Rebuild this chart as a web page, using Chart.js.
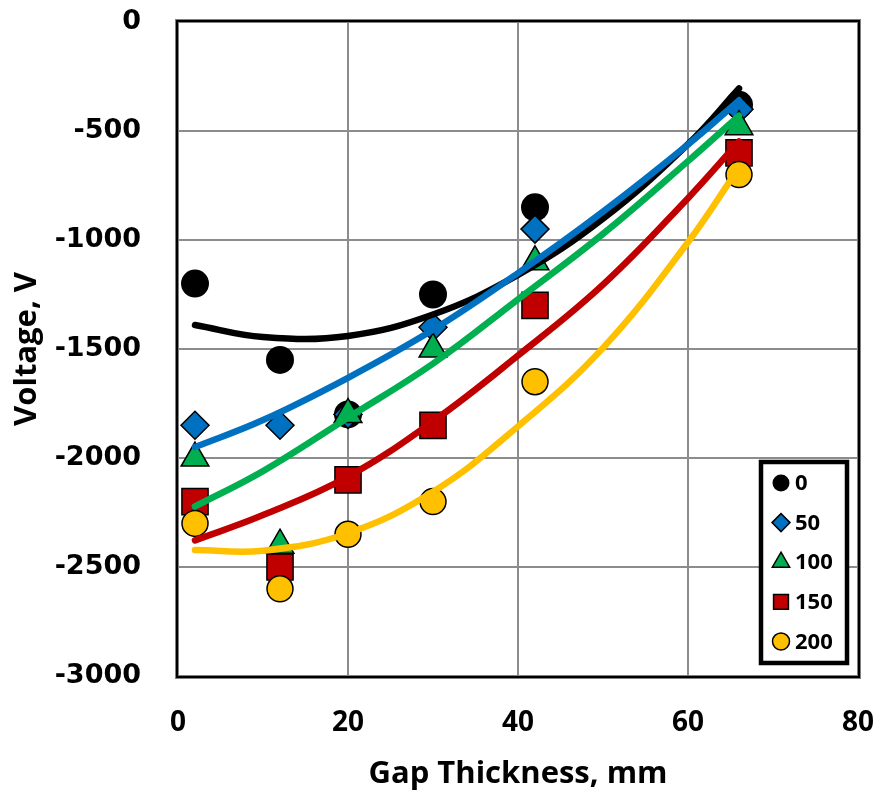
<!DOCTYPE html>
<html>
<head>
<meta charset="utf-8">
<script src="https://cdn.jsdelivr.net/npm/chart.js@4.4.1/dist/chart.umd.min.js"></script>
<style>
  html, body { margin: 0; padding: 0; background: #fff; }
  #wrap { width: 882px; height: 796px; }
</style>
</head>
<body>
<div id="wrap"><canvas id="myChart" width="882" height="796"></canvas></div>
<script>
// measured points //
var gap = [2, 12, 20, 30, 42, 66];
var v0 = [-1200, -1550, -1800, -1250, -850, -380];
var v50 = [-1850, -1850, -1800, -1400, -950, -400];
var v100 = [-2000, -2400, -1800, -1500, -1100, -480];
var v150 = [-2200, -2500, -2100, -1850, -1300, -600];
var v200 = [-2300, -2600, -2350, -2200, -1650, -700];

// trend lines //
var trendX = [2, 10, 20, 30, 40, 50, 60, 66];
var t0 = [-1390, -1445, -1440, -1342, -1160, -902, -560, -305];
var t50 = [-1950, -1826, -1632, -1412, -1152, -870, -562, -360];
var t100 = [-2222, -2060, -1815, -1567, -1272, -972, -638, -430];
var t150 = [-2378, -2262, -2085, -1832, -1530, -1205, -808, -548];
var t200 = [-2422, -2425, -2345, -2155, -1855, -1495, -1010, -668];

var seriesNames = ['0', '50', '100', '150', '200'];
var xTicks = [0, 20, 40, 60, 80];
var yTicks = [0, -500, -1000, -1500, -2000, -2500, -3000];

function pts(xs, ys) {
    return xs.map(function(x, i) { return { x: x, y: ys[i] }; });
}

var colors = ['#000000', '#0070C0', '#00B050', '#C00000', '#FFC000'];
var styles = ['circle', 'rectRot', 'triangle', 'rect', 'circle'];
var radii = [14, 14, 16, 18.5, 13];
var legRadii = [8.5, 9, 10, 10.5, 8.5];
var values = [v0, v50, v100, v150, v200];
var trends = [t0, t50, t100, t150, t200];

// later series sit on top, trend lines above all markers
var datasets = [];
for (var i = 0; i < 5; i++) {
    datasets.push({
        label: seriesNames[i],
        data: pts(gap, values[i]),
        showLine: false,
        pointStyle: styles[i],
        pointRadius: radii[i],
        pointBackgroundColor: colors[i],
        pointBorderColor: '#000',
        pointBorderWidth: i == 0 ? 0 : 1.5,
        order: 10 + (4 - i)
    });
}
for (var j = 0; j < 5; j++) {
    datasets.push({
        label: 'trend ' + seriesNames[j],
        data: pts(trendX, trends[j]),
        showLine: true,
        pointRadius: 0,
        borderColor: colors[j],
        borderWidth: 6.5,
        borderCapStyle: 'round',
        tension: 0.4,
        order: 4 - j
    });
}

// no extra label padding, the layout padding decides the plot box
function noPad(s) {
    s.paddingTop = 0;
    s.paddingBottom = 0;
    s.paddingLeft = 0;
    s.paddingRight = 0;
}

// frame + legend box //
var framePlugin = {
    id: 'frame',
    afterDatasetsDraw: function(chart) {
        var ctx = chart.ctx, a = chart.chartArea;
        ctx.save();
        ctx.strokeStyle = '#7f7f7f';
        ctx.lineWidth = 4;
        ctx.strokeRect(a.left - 1, a.top - 1, a.right - a.left + 2, a.bottom - a.top + 2);
        ctx.strokeStyle = '#000';
        ctx.lineWidth = 2;
        ctx.strokeRect(a.left - 1, a.top - 1, a.right - a.left + 2, a.bottom - a.top + 2);

        // legend
        var bx = a.right - 97, by = a.bottom - 214, bw = 86, bh = 201;
        ctx.fillStyle = '#fff';
        ctx.fillRect(bx, by, bw, bh);
        ctx.strokeStyle = '#000';
        ctx.lineWidth = 4.5;
        ctx.strokeRect(bx, by, bw, bh);
        ctx.font = 'bold 22px "Open Sans"';
        ctx.textBaseline = 'middle';
        ctx.textAlign = 'left';
        for (var k = 0; k < 5; k++) {
            var cy = by + 21 + k * 39.6;
            var cx = bx + 20;
            ctx.fillStyle = colors[k];
            ctx.strokeStyle = '#000';
            ctx.lineWidth = 1.5;
            Chart.helpers.drawPoint(ctx, {
                pointStyle: styles[k],
                radius: legRadii[k],
                rotation: 0,
                borderWidth: k == 0 ? 0 : 1.5
            }, cx, cy);
            ctx.fillStyle = '#000';
            ctx.fillText(seriesNames[k], bx + 34, cy + 1);
        }
        ctx.restore();
    }
};

var ctx = document.getElementById('myChart').getContext('2d');
var voltagechart = new Chart(ctx, {
    type: 'scatter',
    data: { datasets: datasets },
    options: {
        responsive: false,
        animation: false,
        layout: { padding: { top: 22, right: 24, left: 0, bottom: 0 } },
        plugins: {
            legend: { display: false },
            tooltip: { enabled: false }
        },
        scales: {
            x: {
                type: 'linear',
                min: 0,
                max: 80,
                afterBuildTicks: function(s) { s.ticks = xTicks.map(function(v) { return { value: v }; }); },
                afterFit: function(s) { s.height = 120; noPad(s); },
                grid: { color: '#8c8c8c', lineWidth: 2, drawTicks: false },
                border: { display: false },
                ticks: {
                    padding: 30,
                    color: '#000',
                    font: { family: '"Open Sans"', weight: 'bold', size: 28 },
                    callback: function(v) { return String(v); }
                },
                title: {
                    display: true,
                    text: 'Gap Thickness, mm',
                    color: '#000',
                    padding: { top: 0, bottom: 3 },
                    font: { family: '"Open Sans"', weight: 'bold', size: 31 }
                }
            },
            y: {
                type: 'linear',
                min: -3000,
                max: 0,
                afterBuildTicks: function(s) { s.ticks = yTicks.map(function(v) { return { value: v }; }); },
                afterFit: function(s) { s.width = 178; noPad(s); },
                grid: { color: '#8c8c8c', lineWidth: 2, drawTicks: false },
                border: { display: false },
                ticks: {
                    padding: 37,
                    color: '#000',
                    font: { family: '"DejaVu Sans"', weight: 'bold', size: 27 },
                    callback: function(v) { return String(v); }
                },
                title: {
                    display: true,
                    text: 'Voltage, V',
                    color: '#000',
                    padding: { top: 9, bottom: 0 },
                    font: { family: '"Open Sans"', weight: 'bold', size: 31 }
                }
            }
        }
    },
    plugins: [framePlugin]
});
</script>
</body>
</html>
